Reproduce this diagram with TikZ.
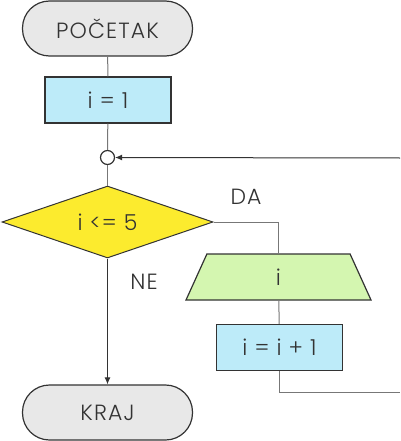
\documentclass[tikz,border=0pt]{standalone}
\usepackage{fontspec}
\setmainfont{Poppins}[UprightFont=* Light, LetterSpace=5]
\usetikzlibrary{shapes.geometric,arrows.meta}
\definecolor{termfill}{HTML}{E8E8E8}
\definecolor{procfill}{HTML}{BDEBF9}
\definecolor{decfill}{HTML}{FCEB2E}
\definecolor{iofill}{HTML}{D4F6B0}
\definecolor{edge}{HTML}{333333}
\definecolor{wire}{HTML}{777777}
\begin{document}
\begin{tikzpicture}[x=1pt,y=-1pt,
  every node/.style={font=\fontsize{22}{24}\selectfont, text=edge},
  term/.style={draw=edge, line width=1.2pt, fill=termfill, rounded corners=27pt, minimum width=170pt, minimum height=55pt},
  proc/.style={draw=edge, line width=1.2pt, fill=procfill, minimum width=126pt, minimum height=46pt},
  dec/.style={diamond, draw=edge, line width=1pt, fill=decfill, minimum width=211pt, minimum height=72pt, inner sep=0pt, aspect=2.93},
  io/.style={trapezium, trapezium stretches body, trapezium left angle=48, trapezium right angle=48, draw=edge, line width=1.2pt, fill=iofill, minimum width=185pt, minimum height=46pt},
  wireline/.style={draw=wire, line width=1pt},
  arrowline/.style={draw=edge, line width=1pt, -{Latex[length=7pt,width=6pt]}},
  lbl/.style={font=\fontsize{22}{24}\selectfont}]
\useasboundingbox (0,0) rectangle (400,441);
\node[term] (start) at (107.5,28.5) {POČETAK};
\node[proc] (init) at (108,100) {i = 1};
\node[circle, draw=edge, line width=1.2pt, fill=white, minimum size=14pt, inner sep=0pt] (j) at (107.5,157.5) {};
\node[dec] (cond) at (107.5,222) {i <= 5};
\node[io] (outp) at (278.5,277) {i};
\node[proc] (inc) at (279.5,347.5) {i = i + 1};
\node[term] (stop) at (107.5,412.5) {KRAJ};
\coordinate (r1) at (400,392.5);
\coordinate (r2) at (400,158);
\node[lbl] (da) at (246,197) {DA};
\node[lbl] (ne) at (144,282) {NE};
\draw[wireline] (start) -- (init);
\draw[wireline] (init) -- (j);
\draw[wireline] (j) -- (cond);
\draw[wireline] (cond.east) -| (outp.north);
\draw[wireline] (outp) -- (inc);
\draw[wireline] (inc.south) |- (r1);
\draw[arrowline] (r2) -- (j);
\draw[arrowline] (cond) -- (stop);
\end{tikzpicture}
\end{document}
